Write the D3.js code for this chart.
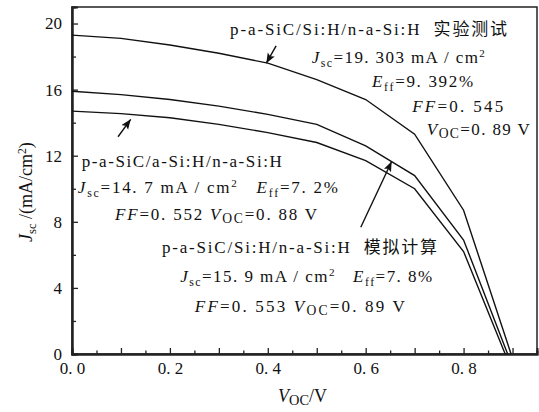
<!DOCTYPE html>
<html>
<head>
<meta charset="utf-8">
<script src="https://cdn.jsdelivr.net/npm/d3@7"></script>
<style>
  body { margin: 0; background: #fff; }
</style>
</head>
<body>
<div id="chart"></div>
<script>
    var width = 539;
    var height = 412;
    var margin = {top: 7, left: 72, right: 2, bottom: 58};
    var fontStack = "'Liberation Serif', 'Noto Sans CJK SC', serif";

    // J-V curves: voltage (V) and current density (mA/cm2)
    var vExp = [0, 0.1, 0.2, 0.3, 0.4, 0.5, 0.6, 0.7, 0.8, 0.897];
    var jExp = [19.30, 19.1, 18.7, 18.2, 17.6, 16.6, 15.4, 13.3, 8.7, 0];
    var vSim = [0, 0.1, 0.2, 0.3, 0.4, 0.5, 0.6, 0.7, 0.8, 0.89];
    var jSim = [15.9, 15.7, 15.4, 15.0, 14.5, 13.9, 12.6, 10.8, 6.9, 0];
    var vASi = [0, 0.1, 0.2, 0.3, 0.4, 0.5, 0.6, 0.7, 0.8, 0.885];
    var jASi = [14.7, 14.55, 14.3, 13.9, 13.4, 12.8, 11.7, 10.0, 6.2, 0];

    var xMajorTicks = [0, 0.1, 0.2, 0.3, 0.4, 0.5, 0.6, 0.7, 0.8, 0.9];
    var xMinorTicks = [0.05, 0.15, 0.25, 0.35, 0.45, 0.55, 0.65, 0.75, 0.85];
    var xLabelTicks = [0, 0.2, 0.4, 0.6, 0.8];
    var yMajorTicks = [0, 4, 8, 12, 16, 20];
    var yMinorTicks = [2, 6, 10, 14, 18];

    // annotation lines: [style, text] pieces
    var notes = [
      {at: [0.323, 19.31], len: 277, parts: [["", "p-a-SiC/Si:H/n-a-Si:H  实验测试"]]},
      {at: [0.490, 17.61], len: 173, parts: [["i", "J"], ["sub", "sc"], ["", "=19. 303 mA / cm"], ["sup", "2"]]},
      {at: [0.613, 16.16], len: 101, parts: [["i", "E"], ["sub", "ff"], ["", "=9. 392%"]]},
      {at: [0.695, 14.65], len: 91, parts: [["i", "FF"], ["", "=0. 545"]]},
      {at: [0.725, 13.26], len: 103, parts: [["i", "V"], ["sub2", "OC"], ["", "=0. 89 V"]]},
      {at: [0.020, 11.32], len: 200, parts: [["", "p-a-SiC/a-Si:H/n-a-Si:H"]]},
      {at: [0.012, 9.75], len: 260, parts: [["i", "J"], ["sub", "sc"], ["", "=14. 7 mA / cm"], ["sup", "2"], ["", "   "], ["i", "E"], ["sub", "ff"], ["", "=7. 2%"]]},
      {at: [0.088, 8.11], len: 202, parts: [["i", "FF"], ["", "=0. 552 "], ["i", "V"], ["sub2", "OC"], ["", "=0. 88 V"]]},
      {at: [0.184, 6.11], len: 275, parts: [["", "p-a-SiC/Si:H/n-a-Si:H  模拟计算"]]},
      {at: [0.221, 4.36], len: 252, parts: [["i", "J"], ["sub", "sc"], ["", "=15. 9 mA / cm"], ["sup", "2"], ["", "   "], ["i", "E"], ["sub", "ff"], ["", "=7. 8%"]]},
      {at: [0.251, 2.54], len: 210, parts: [["i", "FF"], ["", "=0. 553 "], ["i", "V"], ["sub2", "OC"], ["", "=0. 89 V"]]}
    ];

    var arrows = [
      {from: [0.417, 18.65], to: [0.397, 17.6]},
      {from: [0.094, 13.15], to: [0.120, 14.2]},
      {from: [0.590, 7.67], to: [0.653, 11.65]}
    ];

    var svg = d3.select("#chart")
      .append("svg")
      .attr("width", width)
      .attr("height", height);

    var xScale = d3.scaleLinear()
      .domain([0, 0.95])
      .range([margin.left, width - margin.right]);

    var yScale = d3.scaleLinear()
      .domain([0, 21])
      .range([height - margin.bottom, margin.top]);

    svg.append("defs").append("marker")
      .attr("id", "head")
      .attr("markerUnits", "userSpaceOnUse")
      .attr("markerWidth", 12)
      .attr("markerHeight", 10)
      .attr("refX", 10)
      .attr("refY", 4)
      .attr("orient", "auto")
      .append("path")
        .attr("d", "M0,0 L10,4 L0,8 L2,4 Z")
        .attr("fill", "#111");

    // frame
    svg.append("rect")
      .attr("x", xScale(0))
      .attr("y", yScale(21))
      .attr("width", xScale(0.95) - xScale(0))
      .attr("height", yScale(0) - yScale(21))
      .attr("fill", "none")
      .attr("stroke", "#222")
      .attr("stroke-width", 1.5);

    function fmtX(d) {
      return xLabelTicks.some(function(t) { return Math.abs(t - d) < 1e-6; })
        ? d3.format(".1f")(d).replace(".", ". ") : "";
    }

    svg.append("g")
      .attr("class", "axis")
      .attr("transform", `translate(0,${yScale(0)})`)
      .call(d3.axisBottom(xScale).tickValues(xMinorTicks).tickSize(-3.5).tickFormat(""));

    var xAxis = svg.append("g")
      .attr("class", "axis")
      .attr("transform", `translate(0,${yScale(0)})`)
      .call(d3.axisBottom(xScale).tickValues(xMajorTicks).tickSize(-6).tickPadding(8).tickFormat(fmtX));

    svg.append("g")
      .attr("class", "axis")
      .attr("transform", `translate(${xScale(0)},0)`)
      .call(d3.axisLeft(yScale).tickValues(yMinorTicks).tickSize(-4).tickFormat(""));

    var yAxis = svg.append("g")
      .attr("class", "axis")
      .attr("transform", `translate(${xScale(0)},0)`)
      .call(d3.axisLeft(yScale).tickValues(yMajorTicks).tickSize(-6).tickPadding(10).tickFormat(d3.format("d")));

    svg.selectAll(".axis .domain").attr("stroke", "#222").attr("stroke-width", 2);
    svg.selectAll(".axis .tick line").attr("stroke", "#222").attr("stroke-width", 1.3);
    svg.selectAll(".axis text")
      .style("font-family", fontStack)
      .attr("font-size", 17)
      .attr("fill", "#111");

    // curves
    var line = d3.line()
      .x(function(d) { return xScale(d[0]); })
      .y(function(d) { return yScale(d[1]); });

    [[vExp, jExp], [vSim, jSim], [vASi, jASi]].forEach(function(s) {
      svg.append("path")
        .datum(d3.zip(s[0], s[1]))
        .attr("fill", "none")
        .attr("stroke", "#111")
        .attr("stroke-width", 1.4)
        .attr("d", line);
    });

    // arrows
    svg.selectAll(".arrow")
      .data(arrows)
      .enter()
      .append("line")
        .attr("class", "arrow")
        .attr("x1", function(d) { return xScale(d.from[0]); })
        .attr("y1", function(d) { return yScale(d.from[1]); })
        .attr("x2", function(d) { return xScale(d.to[0]); })
        .attr("y2", function(d) { return yScale(d.to[1]); })
        .attr("stroke", "#111")
        .attr("stroke-width", 1.4)
        .attr("marker-end", "url(#head)");

    // rich text helper
    function addParts(t, parts) {
      var shift = 0;
      parts.forEach(function(p) {
        var want = 0, size = null, italic = false;
        if (p[0] === "i") italic = true;
        if (p[0] === "sub") { want = 4; size = "70%"; }
        if (p[0] === "sub2") { want = 3; size = "80%"; }
        if (p[0] === "sup") { want = -6; size = "65%"; }
        var ts = t.append("tspan").attr("dy", want - shift).text(p[1]);
        shift = want;
        if (italic) ts.attr("font-style", "italic");
        if (size) ts.attr("font-size", size);
      });
    }

    notes.forEach(function(n) {
      var t = svg.append("text")
        .attr("x", xScale(n.at[0]))
        .attr("y", yScale(n.at[1]))
        .attr("font-size", 17)
        .attr("fill", "#111")
        .attr("textLength", n.len)
        .attr("lengthAdjust", "spacing")
        .style("font-family", fontStack)
        .style("white-space", "pre");
      addParts(t, n.parts);
    });

    // axis titles
    var xt = svg.append("text")
      .attr("x", 278)
      .attr("y", 402)
      .attr("font-size", 18)
      .attr("fill", "#111")
      .style("font-family", fontStack)
      .style("white-space", "pre");
    addParts(xt, [["i", "V"], ["sub2", "OC"], ["", "/V"]]);

    var yt = svg.append("text")
      .attr("transform", "translate(32,242) rotate(-90)")
      .attr("font-size", 18)
      .attr("fill", "#111")
      .style("font-family", fontStack)
      .style("white-space", "pre");
    addParts(yt, [["i", "J"], ["sub", "sc"], ["", " /(mA/cm"], ["sup", "2"], ["", ")"]]);
</script>
</body>
</html>
